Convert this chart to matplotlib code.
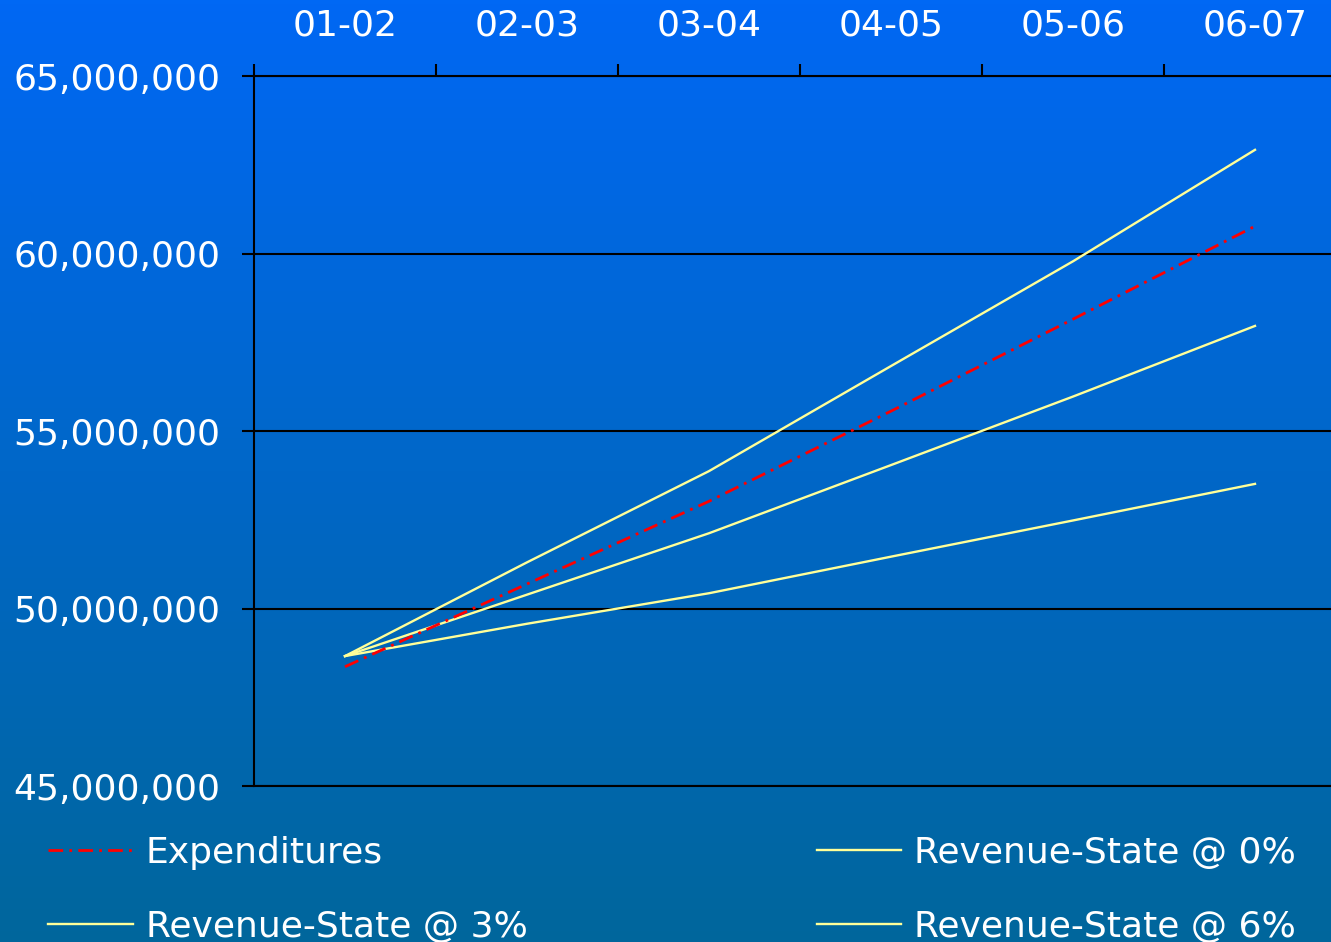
import numpy as np
import matplotlib
matplotlib.use("Agg")
import matplotlib.pyplot as plt
from matplotlib.ticker import FuncFormatter, FixedLocator

categories = ["01-02", "02-03", "03-04", "04-05", "05-06", "06-07"]
expenditures = [48.36e6, 50.69e6, 53.02e6, 55.56e6, 58.15e6, 60.77e6]
rev_0 = [48.66e6, 49.57e6, 50.43e6, 51.46e6, 52.48e6, 53.51e6]
rev_3 = [48.66e6, 50.39e6, 52.12e6, 54.04e6, 55.97e6, 57.96e6]
rev_6 = [48.66e6, 51.30e6, 53.87e6, 56.83e6, 59.78e6, 62.92e6]
y_ticks = [45e6, 50e6, 55e6, 60e6, 65e6]

plt.rcParams['font.family'] = ['DejaVu Sans']
plt.rcParams['lines.scale_dashes'] = False

W, H = 1331, 942
fig = plt.figure(figsize=(W / 100, H / 100), dpi=100)

# gradient background
bg = fig.add_axes([0, 0, 1, 1], zorder=-10)
top = np.array([0x00, 0x68, 0xF4]) / 255
bot = np.array([0x00, 0x66, 0x9C]) / 255
t = np.linspace(0, 1, 256)[:, None]
grad = (top[None, :] * (1 - t) + bot[None, :] * t)[:, None, :]
bg.imshow(grad, aspect='auto', extent=[0, 1, 0, 1], origin='upper')
bg.set_axis_off()

left = 254 / W
right = 1346 / W
bottom = 1 - 786 / H
topf = 1 - 76 / H
ax = fig.add_axes([left, bottom, right - left, topf - bottom])
ax.set_facecolor('none')

x = np.arange(len(categories))
yellow = '#FFFF99'
l_exp, = ax.plot(x, expenditures, color='#FF0000', lw=2.0,
                 linestyle=(0, (10.5, 4.5, 2, 4.5)), label='Expenditures', zorder=5)
l0, = ax.plot(x, rev_0, color=yellow, lw=1.7, label='Revenue-State @ 0%', zorder=4)
l3, = ax.plot(x, rev_3, color=yellow, lw=1.7, label='Revenue-State @ 3%', zorder=4)
l6, = ax.plot(x, rev_6, color=yellow, lw=1.7, label='Revenue-State @ 6%', zorder=4)

ax.set_xlim(-0.5, len(categories) - 0.5)
ax.set_ylim(45e6, 65e6)

# y axis
ax.set_yticks(y_ticks)
ax.yaxis.set_major_formatter(FuncFormatter(lambda v, p: f"{int(v):,}"))
ax.tick_params(axis='y', which='major', direction='out', length=9, width=1.5,
               color='black', labelsize=26, labelcolor='white', pad=15)
ax.grid(axis='y', color='black', lw=1.5, zorder=1)

# x axis on top
ax.xaxis.tick_top()
ax.xaxis.set_major_locator(FixedLocator(np.arange(-0.5, len(categories), 1.0)))
ax.xaxis.set_major_formatter(FuncFormatter(lambda v, p: ''))
ax.xaxis.set_minor_locator(FixedLocator(x))
ax.set_xticklabels(categories, minor=True)
ax.tick_params(axis='x', which='major', direction='out', length=9, width=1.5, color='black',
               top=True, bottom=False)
ax.tick_params(axis='x', which='minor', length=0, labelsize=26, labelcolor='white', pad=24,
               top=True, bottom=False, labeltop=True, labelbottom=False)

for s in ['right']:
    ax.spines[s].set_visible(False)
for s in ['left', 'top', 'bottom']:
    ax.spines[s].set_color('black')
    ax.spines[s].set_linewidth(1.5)

leg = fig.legend([l_exp, l3, l0, l6],
                 ['Expenditures', 'Revenue-State @ 3%', 'Revenue-State @ 0%', 'Revenue-State @ 6%'],
                 ncol=2, loc='upper left', bbox_to_anchor=(48 / W, 1 - 836 / H),
                 frameon=False, fontsize=26, labelcolor='white',
                 handlelength=2.35, handletextpad=0.36, columnspacing=8.0,
                 labelspacing=1.1, borderaxespad=0, borderpad=0)

fig.savefig('out.png', dpi=100)
